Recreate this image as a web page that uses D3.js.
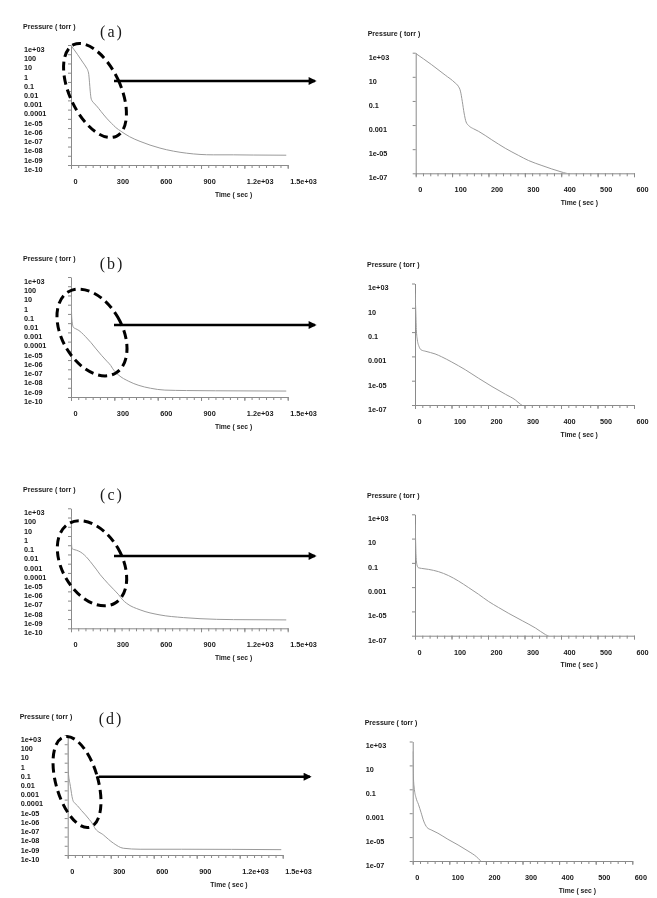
<!DOCTYPE html>
<html>
<head>
<meta charset="utf-8">
<script src="https://cdn.jsdelivr.net/npm/d3@7"></script>
<style>
body { margin: 0; background: #fff; }
svg { will-change: transform; }
text { font-family: "Liberation Sans", Arial, sans-serif; fill: #1a1a1a; }
</style>
</head>
<body>
<div id="main"></div>
<script>
var width = 657;
var height = 898;

// pump-down curves: time in sec, pressure in torr
var timeA = [0, 44, 81, 108, 117, 123, 128, 133, 138.5, 147, 159, 173, 209, 246, 283, 310, 347, 374, 406, 478, 616, 801, 985, 1124, 1262, 1490];
var pressureA = [870, 100, 14, 3.2, 1.66, 0.65, 0.093, 0.01, 1.8e-3, 8.3e-4, 4.9e-4, 3.0e-4, 6.0e-5, 1.2e-5, 3.0e-6, 1.15e-6, 4.4e-7, 2.3e-7, 1.15e-7, 3.6e-8, 6.8e-9, 1.9e-9, 1.26e-9, 1.26e-9, 1.2e-9, 1.15e-9];

var timeB = [0, 1.8, 3.7, 6.4, 11, 16.5, 30, 55, 73, 101, 138, 174, 211, 248, 275, 289, 328, 400, 470, 550, 650, 800, 1000, 1490];
var pressureB = [150, 10, 0.16, 0.023, 6.6e-3, 3.5e-3, 2.6e-3, 1.6e-3, 9.3e-4, 3.4e-4, 7.9e-5, 1.6e-5, 3.3e-6, 7.6e-7, 2.6e-7, 1.15e-7, 2.5e-8, 5e-9, 1.8e-9, 8.9e-10, 5.6e-10, 5e-10, 4.7e-10, 4.4e-10];

var timeC = [0, 1.5, 2.8, 5.5, 9, 18, 37, 64, 92, 119, 147, 174, 202, 229, 257, 294, 330, 358, 385, 478, 616, 778, 893, 1124, 1490];
var pressureC = [150, 10, 0.44, 0.066, 0.04, 0.035, 0.029, 0.019, 8.9e-3, 3.2e-3, 9.1e-4, 2.6e-4, 6.5e-5, 2.1e-5, 6.8e-6, 1.7e-6, 4.3e-7, 1.2e-7, 5.1e-8, 1e-8, 2.8e-9, 1.45e-9, 1.1e-9, 8.7e-10, 8.1e-10];

var timeD = [0, 1.8, 4.6, 9, 15.6, 23, 30, 39.4, 50.5, 69, 96, 124, 151, 174, 186, 249, 319, 388, 505, 795, 1490];
var pressureD = [150, 1.3, 0.1, 0.02, 5.6e-3, 1.1e-3, 2.2e-4, 6.3e-5, 4e-5, 2.1e-5, 6.6e-6, 2.2e-6, 6.9e-7, 2.3e-7, 1e-7, 1.5e-8, 1.9e-9, 5.4e-10, 4.2e-10, 4.2e-10, 3.8e-10];

var caseLabels = ['(a)', '(b)', '(c)', '(d)'];

var yTicksFull = [1e3, 100, 10, 1, 0.1, 0.01, 1e-3, 1e-4, 1e-5, 1e-6, 1e-7, 1e-8, 1e-9, 1e-10];
var yLabelsFull = ['1e+03', '100', '10', '1', '0.1', '0.01', '0.001', '0.0001', '1e-05', '1e-06', '1e-07', '1e-08', '1e-09', '1e-10'];
var yTicksZoom = [1e3, 10, 0.1, 1e-3, 1e-5, 1e-7];
var yLabelsZoom = ['1e+03', '10', '0.1', '0.001', '1e-05', '1e-07'];
var xTicksFull = [0, 300, 600, 900, 1200, 1500];
var xLabelsFull = ['0', '300', '600', '900', '1.2e+03', '1.5e+03'];
var xTicksZoom = [0, 100, 200, 300, 400, 500, 600];
var xLabelsZoom = ['0', '100', '200', '300', '400', '500', '600'];

var series = [
    {t: timeA, p: pressureA},
    {t: timeB, p: pressureB},
    {t: timeC, p: pressureC},
    {t: timeD, p: pressureD}
];

// page layout, one row per case
var rows = [
    {full: {x: 71, y: 45, w: 216.7, h: 120}, zoom: {x: 415.7, y: 52.7, w: 218.3, h: 120.6},
     tag: {x: 112, y: 32}, ell: {cx: 95, cy: 90.5, rx: 25.5, ry: 50.5, rot: -25}, arrow: {x1: 114, x2: 315, y: 81}},
    {full: {x: 71, y: 277, w: 216.7, h: 120}, zoom: {x: 415, y: 283.5, w: 219, h: 121.5},
     tag: {x: 112, y: 264}, ell: {cx: 92, cy: 332.5, rx: 30, ry: 47, rot: -30}, arrow: {x1: 114, x2: 315, y: 325}},
    {full: {x: 71, y: 508.3, w: 216.7, h: 120}, zoom: {x: 415, y: 514.3, w: 219, h: 121.4},
     tag: {x: 112, y: 495}, ell: {cx: 92, cy: 563.3, rx: 30, ry: 46, rot: -30}, arrow: {x1: 114, x2: 315, y: 556}},
    {full: {x: 67.7, y: 735, w: 215, h: 120}, zoom: {x: 412.7, y: 741.5, w: 219.6, h: 119.5},
     tag: {x: 111, y: 719}, ell: {cx: 77, cy: 782, rx: 21, ry: 47, rot: -16}, arrow: {x1: 99, x2: 310, y: 776.7}}
];

var axisColor = '#8a8a8a';
var lineColor = '#9a9a9a';

var svg = d3.select('#main').append('svg')
    .attr('width', width)
    .attr('height', height);

var defs = svg.append('defs');
defs.append('marker')
    .attr('id', 'arrowHead')
    .attr('viewBox', '0 0 10 10')
    .attr('refX', 8)
    .attr('refY', 5)
    .attr('markerUnits', 'userSpaceOnUse')
    .attr('markerWidth', 10)
    .attr('markerHeight', 8)
    .attr('orient', 'auto')
    .append('path')
    .attr('d', 'M0,0 L10,5 L0,10 Z')
    .attr('fill', '#000');

function drawPanel(box, xMax, xMinorStep, yMin, xTicks, xLabels, yTicks, yLabels, data, clipId) {
    var g = svg.append('g').attr('transform', `translate(${box.x}, ${box.y})`);

    var xScale = d3.scaleLinear().domain([0, xMax]).range([0, box.w]);
    var yScale = d3.scaleLog().domain([yMin, 1e3]).range([box.h, 0]);

    defs.append('clipPath').attr('id', clipId)
        .append('rect')
        .attr('x', 0).attr('y', -2)
        .attr('width', box.w).attr('height', box.h + 2);

    // minor ticks on x
    var xMinor = g.append('g')
        .attr('transform', `translate(0, ${box.h})`)
        .call(d3.axisBottom(xScale)
            .tickValues(d3.range(0, xMax + 1, xMinorStep))
            .tickSize(3).tickSizeOuter(0).tickFormat(''));

    var xAxis = g.append('g')
        .attr('transform', `translate(0, ${box.h})`)
        .call(d3.axisBottom(xScale)
            .tickValues(xTicks)
            .tickSize(4).tickSizeOuter(0)
            .tickFormat(function(d, i) { return xLabels[i]; }));

    xAxis.selectAll('text')
        .attr('text-anchor', 'start')
        .attr('x', 2)
        .attr('y', 14)
        .style('font-size', '7.3px')
        .style('font-weight', 'bold');

    var yAxis = g.append('g')
        .call(d3.axisLeft(yScale)
            .tickValues(yTicks)
            .tickSize(3).tickSizeOuter(0)
            .tickFormat(function(d, i) { return yLabels[i]; }));

    yAxis.selectAll('text')
        .attr('text-anchor', 'start')
        .attr('x', -47)
        .attr('y', 4)
        .style('font-size', '7.3px')
        .style('font-weight', 'bold');

    g.selectAll('.domain, .tick line')
        .attr('stroke', axisColor);
    xMinor.select('.domain').remove();

    g.append('text')
        .text('Pressure ( torr )')
        .attr('x', -48)
        .attr('y', -16.5)
        .style('font-size', '7px')
        .style('font-weight', 'bold');

    g.append('text')
        .text('Time ( sec )')
        .attr('x', xScale(xMax * 0.75))
        .attr('y', box.h + 31.5)
        .attr('text-anchor', 'middle')
        .style('font-size', '6.8px')
        .style('font-weight', 'bold');

    var points = data.t.map(function(t, i) { return {t: t, p: data.p[i]}; });

    var line = d3.line()
        .x(function(d) { return xScale(d.t); })
        .y(function(d) { return yScale(d.p); })
        .curve(d3.curveMonotoneX);

    g.append('path')
        .datum(points)
        .attr('clip-path', `url(#${clipId})`)
        .attr('d', line)
        .attr('fill', 'none')
        .attr('stroke', lineColor)
        .attr('stroke-width', 1);
}

rows.forEach(function(row, i) {
    drawPanel(row.full, 1500, 50, 1e-10, xTicksFull, xLabelsFull, yTicksFull, yLabelsFull, series[i], 'clipFull' + i);
    drawPanel(row.zoom, 600, 20, 1e-7, xTicksZoom, xLabelsZoom, yTicksZoom, yLabelsZoom, series[i], 'clipZoom' + i);

    svg.append('text')
        .text(caseLabels[i])
        .attr('x', row.tag.x)
        .attr('y', row.tag.y + 5)
        .attr('text-anchor', 'middle')
        .style('font-family', '"Liberation Serif", "DejaVu Serif", serif')
        .style('font-size', '16px')
        .style('letter-spacing', '2px');

    svg.append('ellipse')
        .attr('cx', row.ell.cx)
        .attr('cy', row.ell.cy)
        .attr('rx', row.ell.rx)
        .attr('ry', row.ell.ry)
        .attr('transform', `rotate(${row.ell.rot}, ${row.ell.cx}, ${row.ell.cy})`)
        .attr('fill', 'none')
        .attr('stroke', '#000')
        .attr('stroke-width', 3)
        .attr('stroke-dasharray', '9,5');

    svg.append('line')
        .attr('x1', row.arrow.x1)
        .attr('x2', row.arrow.x2)
        .attr('y1', row.arrow.y)
        .attr('y2', row.arrow.y)
        .attr('stroke', '#000')
        .attr('stroke-width', 2.6)
        .attr('marker-end', 'url(#arrowHead)');
});
</script>
</body>
</html>
